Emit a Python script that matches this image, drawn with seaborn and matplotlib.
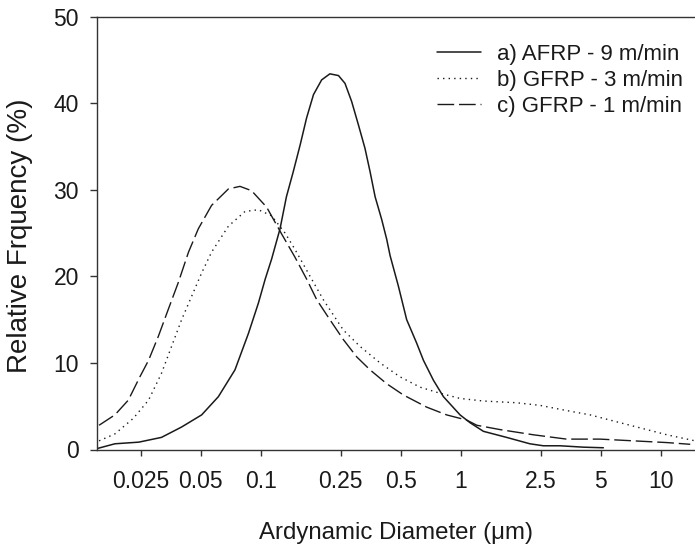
import numpy as np
import pandas as pd
import matplotlib
matplotlib.use("Agg")
import matplotlib.pyplot as plt
import seaborn as sns

# ---- data ----
# a) AFRP - 9 m/min (solid)
d_a = [0.0151, 0.0186, 0.0245, 0.0318, 0.0401, 0.0505, 0.0612, 0.0741, 0.0865, 0.097,
       0.105, 0.113, 0.1245, 0.134, 0.145, 0.157, 0.169, 0.183, 0.201, 0.221,
       0.244, 0.263, 0.284, 0.307, 0.331, 0.351, 0.372, 0.401, 0.425, 0.442,
       0.486, 0.535, 0.600, 0.649, 0.728, 0.817, 0.989, 1.109, 1.294, 1.69,
       2.21, 2.58, 3.13, 4.09, 5.15]
f_a = [0.1, 0.66, 0.85, 1.4, 2.6, 4.0, 6.1, 9.2, 13.4, 16.9,
       19.7, 22.0, 25.5, 29.2, 32.1, 35.2, 38.3, 41.0, 42.7, 43.4,
       43.2, 42.3, 40.2, 37.5, 34.8, 32.1, 29.2, 26.6, 24.3, 22.4,
       18.9, 15.0, 12.3, 10.3, 8.0, 6.1, 4.0, 3.1, 2.1, 1.4,
       0.66, 0.43, 0.43, 0.27, 0.2]

# b) GFRP - 3 m/min (dotted)
d_b = [0.0155, 0.0186, 0.0230, 0.0274, 0.0318, 0.0357, 0.0401, 0.0450, 0.0505, 0.0566,
       0.0687, 0.0832, 0.097, 0.113, 0.132, 0.148, 0.176, 0.205, 0.258, 0.313,
       0.394, 0.495, 0.624, 0.785, 0.989, 1.294, 1.897, 2.48, 3.37, 4.42,
       6.0, 8.17, 10.7, 14.8]
f_b = [1.0, 1.8, 3.6, 5.7, 8.8, 11.9, 15.0, 17.7, 20.4, 22.8,
       25.8, 27.5, 27.7, 27.0, 25.0, 23.1, 20.0, 17.3, 13.8, 11.9,
       10.0, 8.4, 7.2, 6.5, 5.9, 5.6, 5.4, 5.1, 4.5, 4.0,
       3.2, 2.4, 1.7, 1.0]

# c) GFRP - 1 m/min (dashed)
d_c = [0.0155, 0.0186, 0.0217, 0.0248, 0.0274, 0.0307, 0.0344, 0.0386, 0.0434, 0.0486,
       0.0566, 0.0687, 0.0785, 0.0897, 0.1067, 0.1268, 0.148, 0.169, 0.190, 0.221,
       0.258, 0.301, 0.351, 0.425, 0.515, 0.673, 0.847, 1.067, 1.2, 1.567,
       2.30, 3.37, 4.95, 7.28, 10.7, 14.0]
f_c = [2.8, 4.0, 5.7, 8.4, 10.3, 13.1, 16.2, 19.3, 22.8, 25.5,
       28.2, 30.1, 30.4, 29.9, 28.0, 24.9, 22.2, 19.7, 17.3, 15.0,
       12.7, 10.7, 9.2, 7.6, 6.3, 4.9, 4.0, 3.4, 2.8, 2.3,
       1.7, 1.2, 1.2, 1.0, 0.8, 0.6]

labels = ["a) AFRP - 9 m/min", "b) GFRP - 3 m/min", "c) GFRP - 1 m/min"]
xticks = [0.025, 0.05, 0.1, 0.25, 0.5, 1, 2.5, 5, 10]
xticklabels = ["0.025", "0.05", "0.1", "0.25", "0.5", "1", "2.5", "5", "10"]
yticks = [0, 10, 20, 30, 40, 50]

sns.set_theme(style="white")
plt.rcParams["font.family"] = ["Liberation Sans", "DejaVu Sans"]

fig = plt.figure(figsize=(6.95, 5.44), dpi=100)
ax = fig.add_axes([97 / 695, 1 - 449.5 / 544, 1 - 97 / 695, (449.5 - 16.7) / 544])

line_color = "#1a1a1a"
sns.lineplot(x=d_a, y=f_a, ax=ax, color=line_color, lw=1.1, label=labels[0])
sns.lineplot(x=d_b, y=f_b, ax=ax, color=line_color, lw=1.0, label=labels[1],
             linestyle=(0, (1, 3)))
sns.lineplot(x=d_c, y=f_c, ax=ax, color=line_color, lw=1.0, label=labels[2],
             linestyle=(0, (12, 3.5)))

ax.set_xscale("log")
ax.set_xlim(10 ** -1.82, 10 ** 1.17)
ax.set_ylim(0, 50)
ax.set_xticks(xticks)
ax.set_xticklabels(xticklabels)
ax.xaxis.set_minor_locator(matplotlib.ticker.NullLocator())
ax.set_yticks(yticks)

for s in ["left", "bottom", "top"]:
    ax.spines[s].set_color("#333333")
    ax.spines[s].set_linewidth(1.0)
ax.spines["right"].set_visible(False)

ax.tick_params(axis="x", which="major", direction="out", length=4, width=1.0,
               color="#333333", pad=11, labelsize=16.5, labelcolor="#1a1a1a",
               bottom=True)
ax.tick_params(axis="y", which="major", direction="out", length=5, width=1.0,
               color="#333333", pad=8, labelsize=16.5, labelcolor="#1a1a1a",
               left=True)

ax.set_xlabel("Ardynamic Diameter (\u03bcm)", fontsize=17.3, color="#1a1a1a")
ax.set_ylabel("Relative Frquency (%)", fontsize=20, color="#1a1a1a")
ax.xaxis.set_label_coords(0.5, -0.194)
ax.xaxis.label.set_va("center")
ax.yaxis.set_label_coords(-0.128, 0.495)
ax.yaxis.label.set_va("center")

leg = ax.legend(loc="upper left", bbox_to_anchor=(0.5686, 0.937), frameon=False,
                fontsize=16, handlelength=2.0, handletextpad=0.68,
                labelspacing=0.22, borderpad=0, borderaxespad=0)
for t in leg.get_texts():
    t.set_color("#1a1a1a")

fig.savefig("out.png", dpi=100)
